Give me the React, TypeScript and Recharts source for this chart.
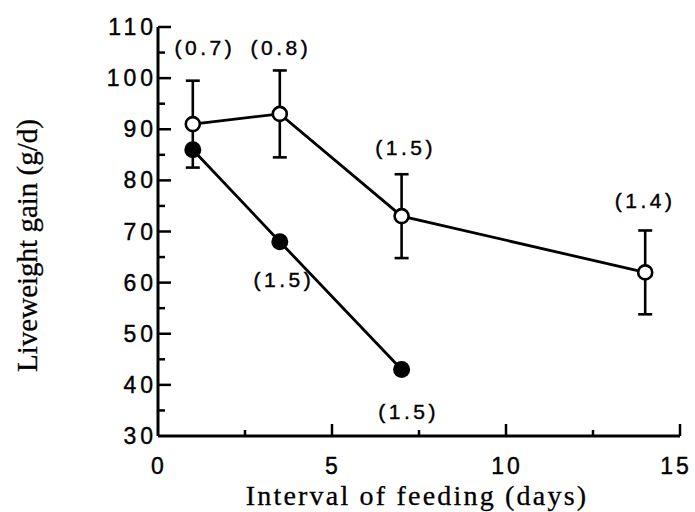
import { LineChart, Line, XAxis, YAxis, ErrorBar, LabelList, Label } from "recharts";

// open circles: liveweight gain (g/d) with SE bars
const openDays = [1, 3.5, 7, 14];
const openGain = [91, 93, 73, 62];
const openSe = [8.5, 8.5, 8.2, 8.2];
const openNotes = ["(0.7)", "(0.8)", "(1.5)", "(1.4)"];

// filled circles
const filledDays = [1, 3.5, 7];
const filledGain = [86, 68, 43];
const filledNotes = ["", "(1.5)", "(1.5)"];

const xTicks = [0, 2.5, 5, 7.5, 10, 12.5, 15];
const yTicks = [30, 35, 40, 45, 50, 55, 60, 65, 70, 75, 80, 85, 90, 95, 100, 105, 110];

const openData = openDays.map((x, i) => ({ x, y: openGain[i], se: openSe[i], note: openNotes[i] }));
const filledData = filledDays.map((x, i) => ({ x, y: filledGain[i], note: filledNotes[i] }));

// label nudges (pixels from the point centre)
const openShift = [[10, -76], [-1, -66], [2, -68], [-2, -71]];
const filledShift = [[0, 0], [2, 38], [5, 42]];

const SANS = "Liberation Sans, Arial, Helvetica, sans-serif";
const SERIF = "Liberation Serif, Times New Roman, serif";

function XTick(props: any) {
  const { x, y, payload } = props;
  const v = payload.value;
  const major = v % 5 === 0;
  return (
    <g>
      {v !== 0 && (
        <line x1={x} x2={x} y1={y} y2={y - (major ? 12 : 6)} stroke="#000" strokeWidth={2.5} />
      )}
      {major && (
        <text
          x={v === 15 ? x - 4 : x + 1}
          y={y + 38}
          textAnchor="middle"
          fontSize={23}
          letterSpacing={3}
          fontFamily={SANS}
          fill="#000"
          stroke="#000"
          strokeWidth={0.4}
        >
          {v}
        </text>
      )}
    </g>
  );
}

function YTick(props: any) {
  const { x, y, payload } = props;
  const v = payload.value;
  const major = v % 10 === 0;
  return (
    <g>
      {v !== 30 && (
        <line x1={x} x2={x + (major ? 13 : 7)} y1={y} y2={y} stroke="#000" strokeWidth={2.5} />
      )}
      {major && (
        <text
          x={x - 5 + 4}
          y={y + 8}
          textAnchor="end"
          fontSize={23}
          letterSpacing={4}
          fontFamily={SANS}
          fill="#000"
          stroke="#000"
          strokeWidth={0.4}
        >
          {v}
        </text>
      )}
    </g>
  );
}

function Note(shift: number[][]) {
  return (props: any) => {
    const { x, y, value, index } = props;
    if (!value) return null;
    const [dx, dy] = shift[index];
    return (
      <text
        x={x + dx + 2}
        y={y + dy + 7}
        textAnchor="middle"
        fontSize={21}
        letterSpacing={3.5}
        fontFamily={SANS}
        fill="#000"
        stroke="#000"
        strokeWidth={0.4}
      >
        {value}
      </text>
    );
  };
}

function OpenDot(props: any) {
  const { cx, cy } = props;
  return <circle cx={cx} cy={cy} r={7} fill="#fff" stroke="#000" strokeWidth={2.6} />;
}

function FilledDot(props: any) {
  const { cx, cy } = props;
  return <circle cx={cx} cy={cy} r={8.5} fill="#000" stroke="none" />;
}

function YTitle(props: any) {
  const vb = props.viewBox;
  const cx = 27;
  const cy = vb.y + vb.height / 2 + 14;
  return (
    <text
      x={cx}
      y={cy}
      transform={`rotate(-90, ${cx}, ${cy})`}
      textAnchor="middle"
      dominantBaseline="central"
      fontSize={29}
      fontFamily={SERIF}
      fill="#000"
      stroke="#000"
      strokeWidth={0.3}
    >
      Liveweight gain (g/d)
    </text>
  );
}

function XTitle(props: any) {
  const vb = props.viewBox;
  return (
    <text
      x={vb.x + vb.width / 2 - 2}
      y={505}
      textAnchor="middle"
      fontSize={28}
      letterSpacing={2.2}
      fontFamily={SERIF}
      fill="#000"
      stroke="#000"
      strokeWidth={0.3}
    >
      Interval of feeding (days)
    </text>
  );
}

export default function App() {
  return (
    <div style={{ position: "absolute", left: 0, top: 0, background: "#fff" }}>
      <LineChart width={695} height={512} margin={{ top: 27, right: 15, bottom: 0, left: 0 }}>
        <XAxis
          type="number"
          dataKey="x"
          domain={[0, 15]}
          ticks={xTicks}
          interval={0}
          height={76}
          tickSize={0}
          tickMargin={0}
          tickLine={false}
          axisLine={{ stroke: "#000", strokeWidth: 3 }}
          tick={<XTick />}
        >
          <Label content={<XTitle />} />
        </XAxis>
        <YAxis
          type="number"
          dataKey="y"
          domain={[30, 110]}
          ticks={yTicks}
          interval={0}
          width={158}
          tickSize={0}
          tickMargin={0}
          tickLine={false}
          axisLine={{ stroke: "#000", strokeWidth: 3 }}
          tick={<YTick />}
        >
          <Label content={<YTitle />} />
        </YAxis>
        <Line
          data={openData}
          dataKey="y"
          stroke="#000"
          strokeWidth={2.8}
          dot={<OpenDot />}
          isAnimationActive={false}
        >
          <ErrorBar dataKey="se" width={7} stroke="#000" strokeWidth={2.6} direction="y" />
          <LabelList dataKey="note" content={Note(openShift)} />
        </Line>
        <Line
          data={filledData}
          dataKey="y"
          stroke="#000"
          strokeWidth={2.8}
          dot={<FilledDot />}
          isAnimationActive={false}
        >
          <LabelList dataKey="note" content={Note(filledShift)} />
        </Line>
      </LineChart>
    </div>
  );
}
